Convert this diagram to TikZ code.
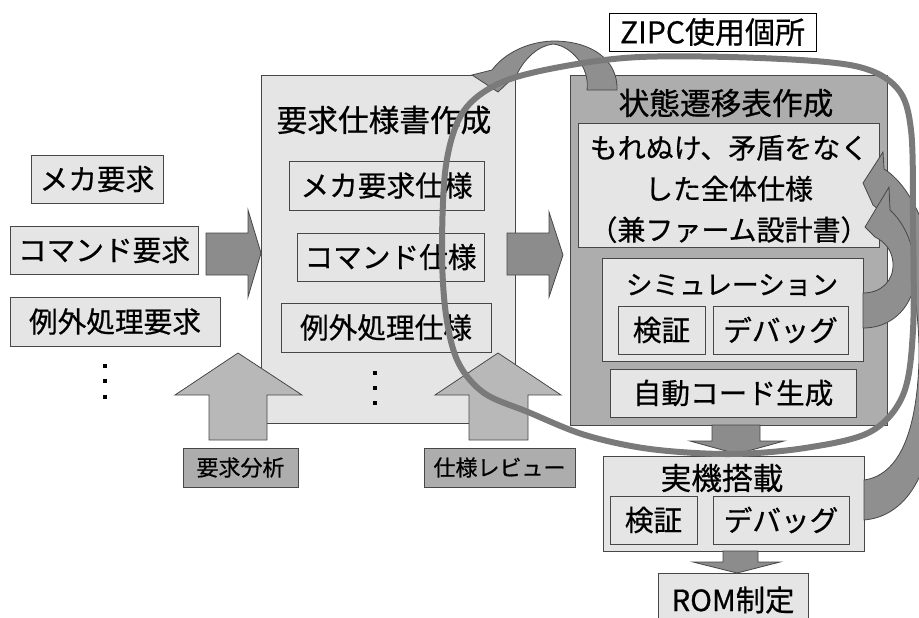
\documentclass[tikz,border=0pt]{standalone}
\usepackage{fontspec}
\setmainfont{Noto Sans CJK JP}[FakeBold=0.6]
\definecolor{lightbox}{gray}{0.9}
\definecolor{statebox}{gray}{0.68}
\definecolor{edgec}{gray}{0.28}
\definecolor{rarrow}{gray}{0.55}
\definecolor{uarrow}{gray}{0.72}
\definecolor{labelbox}{gray}{0.68}
\definecolor{bandc}{gray}{0.56}
\definecolor{loopc}{gray}{0.48}
\tikzset{
  box/.style={draw=edgec, line width=0.7pt, fill=lightbox, inner sep=0pt, font=\fontsize{21.5}{27}\selectfont},
  stbox/.style={box, fill=statebox},
  lblbox/.style={box, fill=labelbox, font=\fontsize{16.5}{20}\selectfont},
  titletext/.style={font=\fontsize{23}{28}\selectfont, inner sep=0pt},
  dotnode/.style={fill=black, minimum size=3pt, inner sep=0pt},
  blockarrowR/.style={draw=edgec, line width=0.6pt, fill=rarrow},
  blockarrowU/.style={draw=edgec, line width=0.6pt, fill=uarrow},
  bandstyle/.style={draw=edgec, line width=0.6pt, fill=bandc},
  loopline/.style={draw=loopc, line width=4.5pt}
}
% box from corner coordinates (pixels): [style]{name}{x1}{y1}{x2}{y2}
\newcommand\rbox[6][]{\node[box,#1,minimum width={(#5-#3)*0.75pt},minimum height={(#6-#4)*0.75pt}] (#2) at ({(#3+#5)/2},{(#4+#6)/2})}
\begin{document}
\begin{tikzpicture}[x=0.75pt,y=-0.75pt]
\useasboundingbox (0,0) rectangle (919,617);
% left requirement boxes
\rbox{mekaReq}{31}{155}{163}{203} {メカ要求};
\rbox{cmdReq}{10}{226}{198}{274} {コマンド要求};
\rbox{excReq}{10}{297}{220}{346} {例外処理要求};
\node[dotnode] (ld1) at (105,366) {};
\node[dotnode] (ld2) at (105,381) {};
\node[dotnode] (ld3) at (105,397) {};
% requirement spec box
\rbox{reqSpec}{261}{75}{515}{423} {};
\node[titletext] (reqTitle) at (384,120) {要求仕様書作成};
\rbox{mekaSpec}{289}{161}{484}{210} {メカ要求仕様};
\rbox{cmdSpec}{297}{233}{484}{281} {コマンド仕様};
\rbox{excSpec}{281}{303}{491}{352} {例外処理仕様};
\node[dotnode] (md1) at (375,373) {};
\node[dotnode] (md2) at (375,388) {};
\node[dotnode] (md3) at (375,403) {};
% right arrows
\draw[blockarrowR] (206,233) -- (248,233) -- (248,210) -- (261,253) -- (248,297) -- (248,275) -- (206,275) -- cycle;
\draw[blockarrowR] (507,233) -- (549,233) -- (549,212) -- (563,255) -- (549,297) -- (549,275) -- (507,275) -- cycle;
% up arrows
\draw[blockarrowU] (209,440) -- (209,395) -- (175,395) -- (238,353) -- (302,395) -- (267,395) -- (267,440) -- cycle;
\draw[blockarrowU] (469,440) -- (469,395) -- (435,395) -- (498,353) -- (561,395) -- (528,395) -- (528,440) -- cycle;
\rbox[lblbox]{analysis}{183}{448}{298}{487} {要求分析};
\rbox[lblbox]{review}{424}{448}{575}{487} {仕様レビュー};
% ZIPC label
\rbox[fill=white, draw=black, font=\fontsize{22.5}{26}\selectfont]{zipc}{609}{13}{816}{51} {ZIPC使用個所};
% state transition box
\rbox[stbox]{state}{570}{75}{887}{425} {};
\node[titletext] (stateTitle) at (726,103) {状態遷移表作成};
\rbox{wholeSpec}{578}{123}{879}{247} {};
\node[font=\fontsize{21}{30.75}\selectfont, align=center, inner sep=0pt] (wholeText) at (729,189) {もれぬけ、矛盾をなく\\した全体仕様\\（兼ファーム設計書）};
\rbox{sim}{602}{258}{863}{361} {};
\node[inner sep=0pt, font=\fontsize{20}{24}\selectfont] (simTitle) at (732,285) {シミュレーション};
\rbox{simVer}{618}{306}{705}{354} {検証};
\rbox{simDbg}{713}{306}{848}{354} {デバッグ};
\rbox{autoCode}{610}{369}{856}{417} {自動コード生成};
% down arrows
\draw[blockarrowR] (712,425) -- (712,441) -- (690,441) -- (737,454) -- (784,441) -- (760,441) -- (760,425) -- cycle;
% real machine box
\rbox{real}{603}{456}{864}{551} {};
\node[titletext] (realTitle) at (722,478) {実機搭載};
\rbox{realVer}{610}{496}{697}{544} {検証};
\rbox{realDbg}{713}{496}{849}{544} {デバッグ};
\draw[blockarrowR] (723,551) -- (723,562) -- (693,562) -- (737,573) -- (780,562) -- (758,562) -- (758,551) -- cycle;
\rbox{rom}{658}{573}{808}{626} {};
\node[inner sep=0pt, font=\fontsize{22}{26}\selectfont] (romText) at (733,600) {ROM制定};
% top arch arrow (state -> requirement spec)
\draw[bandstyle] (617,90) .. controls (618,60) and (592,41) .. (553,41)
  .. controls (525,42) and (503,55) .. (492,70) -- (472,75) -- (498,92) -- (517,74)
  .. controls (525,58) and (538,46) .. (553,44)
  .. controls (572,46) and (590,68) .. (587,90) -- cycle;
% band from real machine box to whole spec
\draw[bandstyle] (864,520) .. controls (900,517) and (925,485) .. (932,430)
  -- (936,300) .. controls (936,235) and (910,185) .. (884,169) -- (883,152) -- (863,183) -- (873,205)
  .. controls (903,228) and (920,290) .. (919,360)
  .. controls (917,430) and (900,475) .. (864,480) -- cycle;
% band from simulation box to whole spec
\draw[bandstyle] (863,293) .. controls (882,293) and (894,280) .. (893,263)
  .. controls (892,250) and (885,242) .. (875,237) -- (865,227) -- (889,187) -- (890,210)
  .. controls (910,228) and (919,262) .. (914,288)
  .. controls (906,315) and (886,328) .. (863,328) -- cycle;
% ZIPC usage loop
\draw[loopline] plot[smooth cycle, tension=0.55] coordinates {
  (442,250) (446,165) (463,112) (500,83) (560,67) (640,57) (760,58) (855,66)
  (897,88) (911,130) (913,220) (913,330) (903,395) (870,432) (805,448) (730,454)
  (650,449) (585,435) (528,412) (484,393) (458,362) (446,315)};
\end{tikzpicture}
\end{document}
